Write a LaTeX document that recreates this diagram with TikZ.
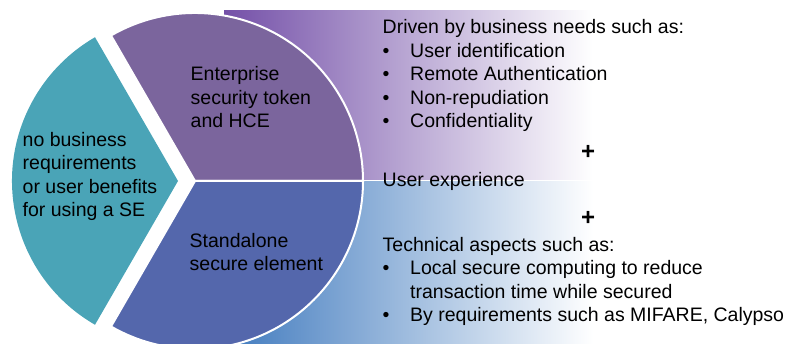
\documentclass[tikz,border=0pt]{standalone}
\usepackage{fontspec}
\setmainfont{Liberation Sans}
\definecolor{tealSE}{RGB}{74,164,183}
\definecolor{purpSE}{RGB}{123,101,157}
\definecolor{blueSE}{RGB}{84,103,172}
\definecolor{bandP}{RGB}{116,80,168}
\definecolor{bandB}{RGB}{64,122,190}
\newcommand{\bl}[1]{\makebox[27.5pt][l]{•}#1}
\begin{document}
\begin{tikzpicture}[x=1pt,y=-1pt,
  txt/.style={font=\fontsize{19.5}{23.6}\selectfont, inner sep=0pt, align=left, anchor=base west, text=black},
  plus/.style={font=\fontsize{24}{24}\selectfont\bfseries, inner sep=0pt, anchor=base, text=black},
  piece/.style={draw=white, line width=2pt}]
\useasboundingbox (0,0) rectangle (805,344);
\clip (0,0) rectangle (805,344);
% gradient bands
\shade[left color=bandP, right color=white] (224,10.7) rectangle (593,180);
\shade[left color=bandB, right color=white] (224,181.5) rectangle (593,350);
% pie pieces
\fill[tealSE] (178,181) -- ++(120:166) arc[start angle=120, end angle=240, radius=166] -- cycle;
\filldraw[piece, fill=purpSE] (195,181) -- ++(-120:168) arc[start angle=-120, end angle=0, radius=168] -- cycle;
\filldraw[piece, fill=blueSE] (195,181) -- ++(0:168) arc[start angle=0, end angle=120, radius=168] -- cycle;
% texts in the pie (anchor = baseline of the last line)
\node[txt] (none) at (22.5,217) {no business\\requirements\\or user benefits\\for using a SE};
\node[txt] (ent) at (190.5,128) {Enterprise\\security token\\and HCE};
\node[txt] (sta) at (189.5,271) {Standalone\\secure element};
% right texts
\node[txt] (driven) at (382.5,128) {Driven by business needs such as:\\\bl{User identification}\\\bl{Remote Authentication}\\\bl{Non-repudiation}\\\bl{Confidentiality}};
\node[plus] (plus1) at (588,160) {+};
\node[txt] (ux) at (382.5,187) {User experience};
\node[plus] (plus2) at (588,225.5) {+};
\node[txt] (tech) at (382.5,322) {Technical aspects such as:\\\bl{Local secure computing to reduce}\\\hspace{27.5pt}transaction time while secured\\\bl{By requirements such as MIFARE, Calypso}};
\end{tikzpicture}
\end{document}
